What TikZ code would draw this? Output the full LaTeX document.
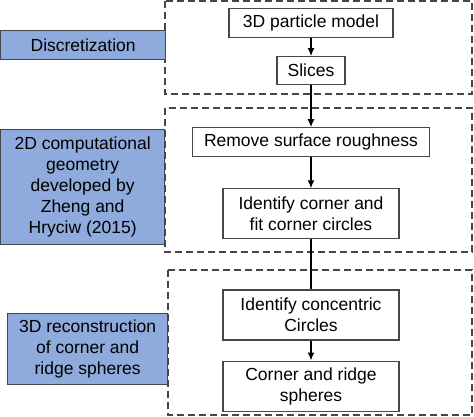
\documentclass[tikz,border=0pt]{standalone}
\usepackage{fontspec}
\setmainfont{Liberation Sans}
\usepackage{tikz}
\usetikzlibrary{arrows.meta,positioning}
\definecolor{stageblue}{RGB}{143,170,220}
\definecolor{edgegray}{RGB}{70,70,70}
\tikzset{stepbox/.style={draw=edgegray, line width=1.1pt, fill=white, align=center, inner sep=2pt}, stagebox/.style={draw=edgegray, fill=stageblue, line width=1.3pt, align=center, inner sep=2pt}, frame/.style={draw=edgegray, line width=1.3pt, dash pattern=on 7pt off 4pt}, edge/.style={-{Latex[length=8pt,width=7pt]}, line width=1.4pt}}

\begin{document}
\begin{tikzpicture}[x=1pt, y=-1pt, every node/.style={font=\fontsize{17.5}{21}\selectfont}, node distance=20pt]
\useasboundingbox (0,0) rectangle (474,417);
% dashed frames for the three stages
\draw[frame] (165,1) rectangle (472,94);
\draw[frame] (165,108) rectangle (472,252);
\draw[frame] (168,270) rectangle (472,415);
% stage labels
\node[stagebox, minimum width=165pt, minimum height=29pt, anchor=north west] (disc) at (0,30) {Discretization};
\node[stagebox, minimum width=164pt, minimum height=115pt, anchor=north west] (geom) at (0,129) {2D computational\\geometry\\developed by\\Zheng and\\Hryciw (2015)};
\node[stagebox, minimum width=160pt, minimum height=71pt, anchor=north west] (recon) at (7,313) {3D reconstruction\\of corner and\\ridge spheres};
% process steps
\node[stepbox, minimum width=164pt, minimum height=29pt, anchor=north] (model) at (311,8) {3D particle model};
\node[stepbox, minimum width=68pt, minimum height=28pt, below=18pt of model] (slices) {Slices};
\node[stepbox, minimum width=237pt, minimum height=29pt, below=42pt of slices] (rough) {Remove surface roughness};
\node[stepbox, minimum width=176pt, minimum height=50pt, below=31pt of rough] (corner) {Identify corner and\\fit corner circles};
\node[stepbox, minimum width=176pt, minimum height=50pt, below=50pt of corner] (conc) {Identify concentric\\Circles};
\node[stepbox, minimum width=176pt, minimum height=50pt, below=of conc] (spheres) {Corner and ridge\\spheres};
\draw[edge] (model) -- (slices);
\draw[edge] (slices) -- (rough);
\draw[edge] (rough) -- (corner);
\draw[line width=1.4pt] (corner) -- (conc);
\draw[edge] (conc) -- (spheres);
\end{tikzpicture}
\end{document}
